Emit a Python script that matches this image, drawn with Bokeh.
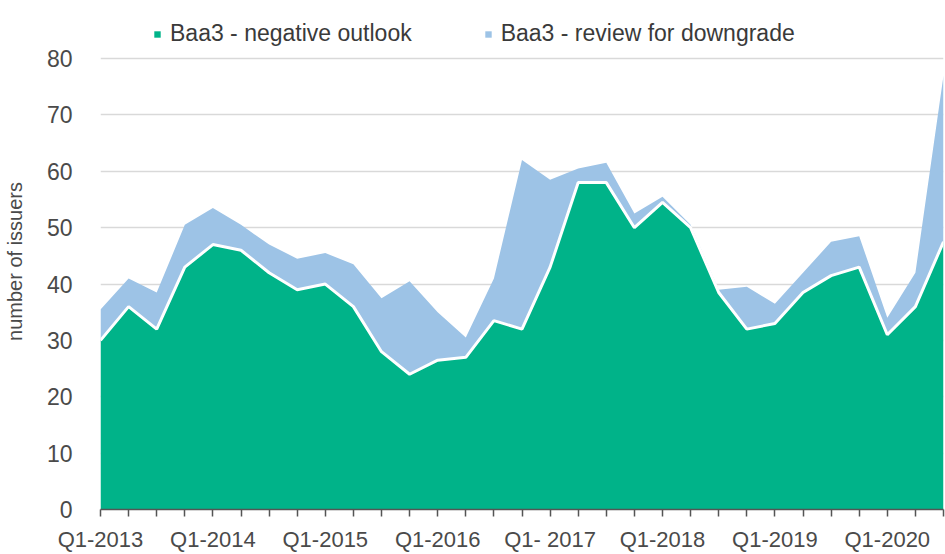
import numpy as np
from bokeh.plotting import figure
from bokeh.models import Range1d, FixedTicker, ColumnDataSource
from bokeh.embed import file_html
from bokeh.resources import INLINE

quarters = [f"Q{q}-{y}" for y in range(2013, 2021) for q in range(1, 5)][:31]
tick_labels = ["Q1-2013", "Q1-2014", "Q1-2015", "Q1-2016", "Q1- 2017",
               "Q1-2018", "Q1-2019", "Q1-2020"]
negative_outlook = [30, 36, 32, 43, 47, 46, 42, 39, 40, 36, 28,
                    24, 26.5, 27, 33.5, 32, 43, 58, 58, 50, 54.5,
                    50, 38.5, 32, 33, 38.5, 41.5, 43, 31, 36, 47.5]
review_downgrade = [5.5, 5, 6.5, 7.5, 6.5, 4.5, 5, 5.5, 5.5, 7.5, 9.5,
                    16.5, 8.5, 3.5, 7.5, 30, 15.5, 2.5, 3.5, 2.5, 1,
                    0.5, 0.5, 7.5, 3.5, 3.5, 6, 5.5, 3, 6, 29.5]
series_names = ["Baa3 - negative outlook", "Baa3 - review for downgrade"]
colors = ["#00b389", "#9dc3e6"]

x = list(range(len(quarters)))
src = ColumnDataSource(dict(x=x, neg=negative_outlook, rev=review_downgrade))

FONT = "Liberation Sans"
TXT = "#4a4a4a"

p = figure(width=945, height=554, output_backend="svg", toolbar_location=None,
           x_range=Range1d(0, len(quarters) - 1), y_range=Range1d(0, 88),
           min_border_left=96, min_border_right=2, min_border_top=13,
           min_border_bottom=43)
p.outline_line_color = None
p.background_fill_color = "white"
p.border_fill_color = "white"

r = p.varea_stack(["neg", "rev"], x="x", source=src, color=colors,
                  legend_label=series_names)
p.line("x", "neg", source=src, line_color="white", line_width=3)

# axes
p.xaxis.ticker = FixedTicker(ticks=x)
overrides = {}
for i in x:
    overrides[i] = tick_labels[i // 4] if i % 4 == 0 and i // 4 < len(tick_labels) else ""
p.xaxis.major_label_overrides = overrides
p.xaxis.major_tick_in = 0
p.xaxis.major_tick_out = 7
p.xaxis.minor_tick_line_color = None
p.xaxis.axis_line_color = "#555555"
p.xaxis.axis_line_width = 1.5
p.xaxis.major_tick_line_color = "#555555"
p.xaxis.major_tick_line_width = 1.5
p.xaxis.major_label_standoff = 10
p.xaxis.major_label_text_font = FONT
p.xaxis.major_label_text_font_size = "22px"
p.xaxis.major_label_text_color = TXT

p.yaxis.ticker = FixedTicker(ticks=list(range(0, 81, 10)))
p.yaxis.axis_line_color = None
p.yaxis.major_tick_line_color = None
p.yaxis.minor_tick_line_color = None
p.yaxis.major_label_standoff = 22
p.yaxis.major_label_text_font = FONT
p.yaxis.major_label_text_font_size = "23px"
p.yaxis.major_label_text_color = TXT
p.yaxis.axis_label = "number of issuers"
p.yaxis.axis_label_text_font = FONT
p.yaxis.axis_label_text_font_size = "20px"
p.yaxis.axis_label_text_font_style = "normal"
p.yaxis.axis_label_text_color = TXT
p.yaxis.axis_label_standoff = 18

p.xgrid.grid_line_color = None
p.ygrid.ticker = FixedTicker(ticks=list(range(10, 81, 10)))
p.ygrid.grid_line_color = "#d9d9d9"
p.ygrid.grid_line_width = 1.5

lg = p.legend[0]
lg.orientation = "horizontal"
lg.location = (53, 462)
lg.glyph_width = 8
lg.glyph_height = 8
lg.label_standoff = 9
lg.spacing = 72
lg.padding = 0
lg.margin = 0
lg.border_line_alpha = 0
lg.background_fill_alpha = 0
lg.label_text_font = FONT
lg.label_text_font_size = "23px"
lg.label_text_color = "#3a3a3a"

open("out.html", "w").write(file_html(p, INLINE))
